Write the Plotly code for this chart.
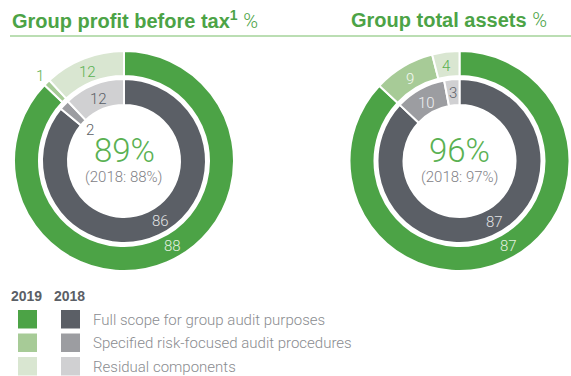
import math
import plotly.graph_objects as go

W, H = 571, 376

# Audit coverage shares (%) per component category
categories = ["Full scope for group audit purposes",
              "Specified risk-focused audit procedures",
              "Residual components"]
profit_2019 = [88, 1, 12]
profit_2018 = [86, 2, 12]
assets_2019 = [87, 9, 4]
assets_2018 = [87, 10, 3]
years = ["2019", "2018"]

green_cols = ["#4ca346", "#a7cb97", "#d9e6d1"]
grey_cols = ["#5b5f66", "#9c9da1", "#d0d0d2"]
green_txt = "#5ab152"
grey_txt = "#7f8186"
light_font = "Roboto"
bold_font = "Liberation Sans"
LABEL_FRAC = 0.48  # where along each slice its value label sits

fig = go.Figure()


def px_dom(cx, cy, r):
    return dict(x=[(cx - r) / W, (cx + r) / W],
                y=[1 - (cy + r) / H, 1 - (cy - r) / H])


def add_ring(vals, cols, cx, cy, r_out, r_in):
    fig.add_trace(go.Pie(
        values=vals, labels=categories, marker=dict(colors=cols, line=dict(color="white", width=2)),
        hole=r_in / r_out, sort=False, direction="clockwise", rotation=0,
        textinfo="none", hoverinfo="label+value", showlegend=False,
        domain=px_dom(cx, cy, r_out)))


def ring_labels(vals, cx, cy, radii, colors, size=15):
    total = sum(vals)
    acc = 0
    for v, r, c in zip(vals, radii, colors):
        ang = (acc + v * LABEL_FRAC) / total * 2 * math.pi
        acc += v
        x = cx + r * math.sin(ang)
        y = cy - r * math.cos(ang)
        fig.add_annotation(x=x / W, y=1 - y / H, xref="paper", yref="paper", text=str(v),
                           showarrow=False, xanchor="center", yanchor="middle",
                           font=dict(family=light_font, size=size, color=c, weight=300))


pct = '<span style="font-family:Roboto;font-weight:300">%</span>'
charts = [
    dict(cx=124, cy=161, outer=profit_2019, inner=profit_2018,
         title=f"<b>Group profit before tax<sup>1</sup></b> {pct}", tx=10,
         out_r=[98, 120, 96], in_r=[70, 46, 67],
         out_c=["#e4f1e0", green_txt, green_txt], in_c=["#e2e3e5", "#5b5f66", "#5b5f66"]),
    dict(cx=459.5, cy=161, outer=assets_2019, inner=assets_2018,
         title=f"<b>Group total assets</b> {pct}", tx=349,
         out_r=[98, 96, 96], in_r=[70, 67, 68],
         out_c=["#e4f1e0", "#f4f8f2", green_txt], in_c=["#e2e3e5", "#f0f0f2", "#5b5f66"]),
]

for ch in charts:
    add_ring(ch["outer"], green_cols, ch["cx"], ch["cy"], 110, 85)
    add_ring(ch["inner"], grey_cols, ch["cx"], ch["cy"], 82, 56)
    ring_labels(ch["outer"], ch["cx"], ch["cy"], ch["out_r"], ch["out_c"])
    ring_labels(ch["inner"], ch["cx"], ch["cy"], ch["in_r"], ch["in_c"])
    cov19 = ch["outer"][0] + ch["outer"][1]
    cov18 = ch["inner"][0] + ch["inner"][1]
    fig.add_annotation(x=ch["cx"] / W, y=1 - 150 / H, xref="paper", yref="paper",
                       text=f"{cov19}%", showarrow=False, xanchor="center", yanchor="middle",
                       height=30, valign="middle",
                       font=dict(family=light_font, size=33, color=green_txt, weight=300))
    fig.add_annotation(x=ch["cx"] / W, y=1 - 176.5 / H, xref="paper", yref="paper",
                       text=f"({years[1]}: {cov18}%)", showarrow=False, xanchor="center",
                       yanchor="middle",
                       font=dict(family=light_font, size=15, color=grey_txt, weight=300))
    fig.add_annotation(x=ch["tx"] / W, y=1 - 20 / H, xref="paper", yref="paper",
                       text=ch["title"], showarrow=False, xanchor="left", yanchor="middle",
                       font=dict(family=bold_font, size=20, color="#4ca346"))

# Rule under the headings
fig.add_shape(type="line", xref="paper", yref="paper", x0=10 / W, x1=1, y0=1 - 36 / H, y1=1 - 36 / H,
              line=dict(color="#a5d39a", width=1.5))

# Key
for i, yr in enumerate(years):
    fig.add_annotation(x=(9 + 43 * i) / W, y=1 - 296 / H, xref="paper", yref="paper", text=f"<b>{yr}</b>",
                       showarrow=False, xanchor="left", yanchor="middle",
                       font=dict(family=bold_font, size=14, color="#5b5f66"))
for j, cat in enumerate(categories):
    y0 = 310 + 23.5 * j
    for k, cols in enumerate([green_cols, grey_cols]):
        x0 = 18 + 43 * k
        fig.add_shape(type="rect", xref="paper", yref="paper", x0=x0 / W, x1=(x0 + 19) / W,
                      y0=1 - y0 / H, y1=1 - (y0 + 18.5) / H, line=dict(width=0), fillcolor=cols[j])
    fig.add_annotation(x=91 / W, y=1 - (y0 + 9.5) / H, xref="paper", yref="paper", text=cat,
                       showarrow=False, xanchor="left", yanchor="middle",
                       font=dict(family=light_font, size=15, color="#8a8c90", weight=300))

fig.update_layout(width=W, height=H, margin=dict(l=0, r=0, t=0, b=0),
                  paper_bgcolor="white", plot_bgcolor="white")
fig.write_html("out.html")
